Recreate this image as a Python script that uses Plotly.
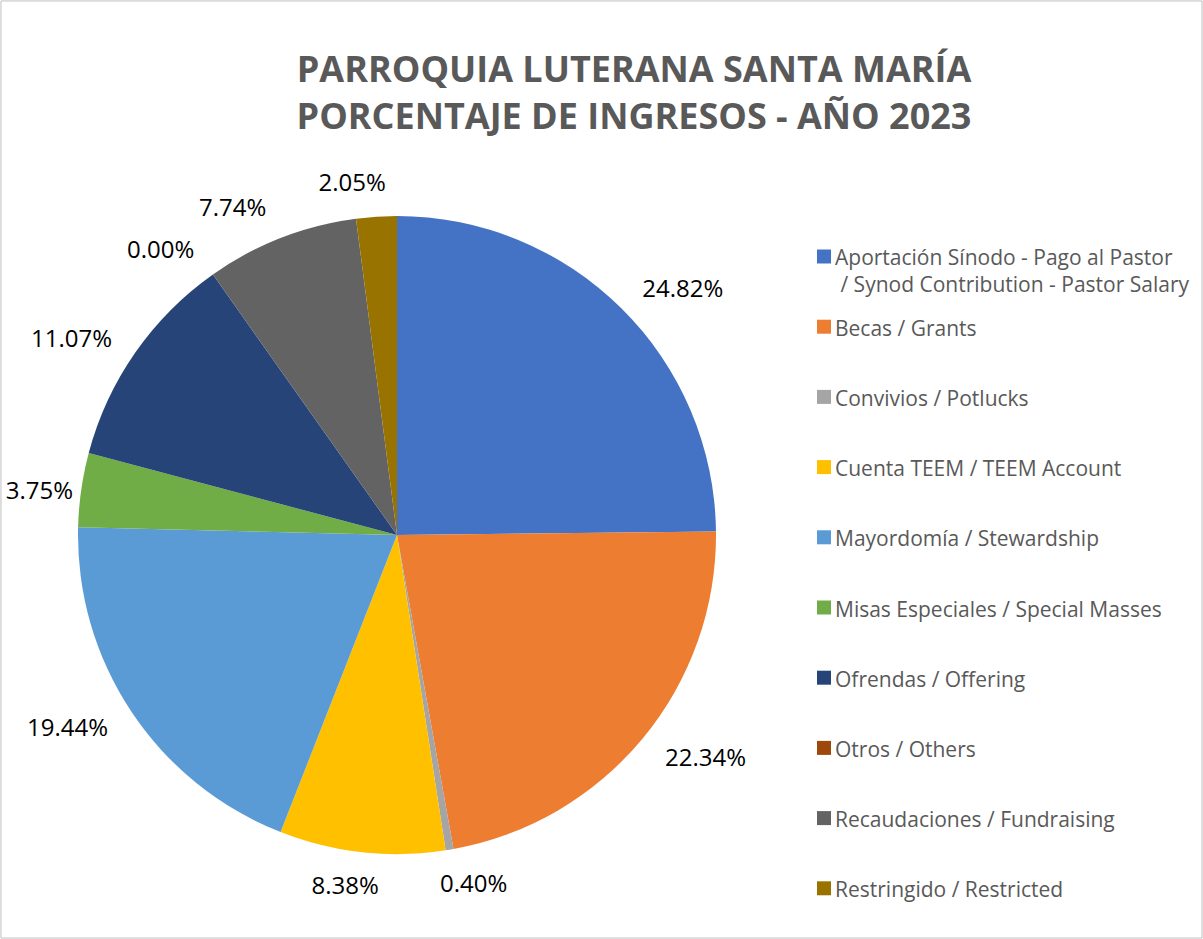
import plotly.graph_objects as go

categories = [
    "Aportación Sínodo - Pago al Pastor<br> / Synod Contribution - Pastor Salary",
    "Becas / Grants",
    "Convivios / Potlucks",
    "Cuenta TEEM / TEEM Account",
    "Mayordomía / Stewardship",
    "Misas Especiales / Special Masses",
    "Ofrendas / Offering",
    "Otros / Others",
    "Recaudaciones / Fundraising",
    "Restringido / Restricted",
]
percentages = [24.82, 22.34, 0.40, 8.38, 19.44, 3.75, 11.07, 0.00, 7.74, 2.05]
colors = ["#4472C4", "#ED7D31", "#A5A5A5", "#FFC000", "#5B9BD5",
          "#70AD47", "#264478", "#9E480E", "#636363", "#997300"]

W, H = 1203, 939


def px(x):
    return x / W


def py(y):
    return 1 - y / H


cx, cy, r = 397, 535, 319


def dom(rad):
    return dict(x=[px(cx - rad), px(cx + rad)], y=[py(cy + rad), py(cy - rad)])


label_font = dict(family="Open Sans", size=24, color="#000000")
n = len(percentages)

fig = go.Figure()
# visible pie, no text
fig.add_trace(go.Pie(
    labels=categories, values=percentages, sort=False,
    direction="clockwise", rotation=0,
    marker=dict(colors=colors, line=dict(width=0)),
    textposition="none", domain=dom(r), showlegend=False,
    hoverinfo="label+value",
))

# transparent pies carrying the outside percentage labels
# (index groups, extra label radius, rotation of the label pie)
label_groups = [
    ([0, 1, 4, 6, 7, 8], 18, 0),
    ([5], 0, 0),
    ([9], 18, 3.2),
    ([3], 14, -4.6),
    ([2], 14, 3.5),
]
for idx, extra, rot in label_groups:
    pos = ["outside" if i in idx else "none" for i in range(n)]
    fig.add_trace(go.Pie(
        labels=categories, values=percentages, sort=False,
        direction="clockwise", rotation=rot,
        marker=dict(colors=["rgba(0,0,0,0)"] * n, line=dict(width=0)),
        textposition=pos, texttemplate="%{value:.2f}%",
        textfont=label_font, domain=dom(r + extra), showlegend=False,
        hoverinfo="skip",
    ))

# legend drawn as squares + text
shapes = [dict(type="rect", xref="paper", yref="paper",
               x0=0.0008, x1=0.9992, y0=0.001, y1=0.999,
               line=dict(color="#BFBFBF", width=1))]
annotations = []
leg_top, leg_step = 256.5, 70.2
for i, (cat, col) in enumerate(zip(categories, colors)):
    yc = leg_top + i * leg_step
    shapes.append(dict(type="rect", xref="paper", yref="paper",
                       x0=px(817), x1=px(831), y0=py(yc + 7), y1=py(yc - 7),
                       fillcolor=col, line=dict(width=0)))
    annotations.append(dict(xref="paper", yref="paper", x=px(833), y=py(yc - 15),
                            xanchor="left", yanchor="top", align="left",
                            text=cat, showarrow=False,
                            font=dict(family="Open Sans", size=21, color="#595959")))

fig.update_layout(
    width=W, height=H,
    margin=dict(l=0, r=0, t=0, b=0, autoexpand=False),
    paper_bgcolor="white",
    plot_bgcolor="white",
    showlegend=False,
    title=dict(
        text="PARROQUIA LUTERANA SANTA MARÍA<br>PORCENTAJE DE INGRESOS - AÑO 2023",
        x=px(634), xanchor="center",
        y=py(82), yanchor="middle",
        font=dict(family="Open Sans", size=36, color="#595959", weight="bold"),
    ),
    shapes=shapes,
    annotations=annotations,
)

fig.write_html("out.html", config={"displayModeBar": False},
               post_script="document.body.style.margin='0px';")
